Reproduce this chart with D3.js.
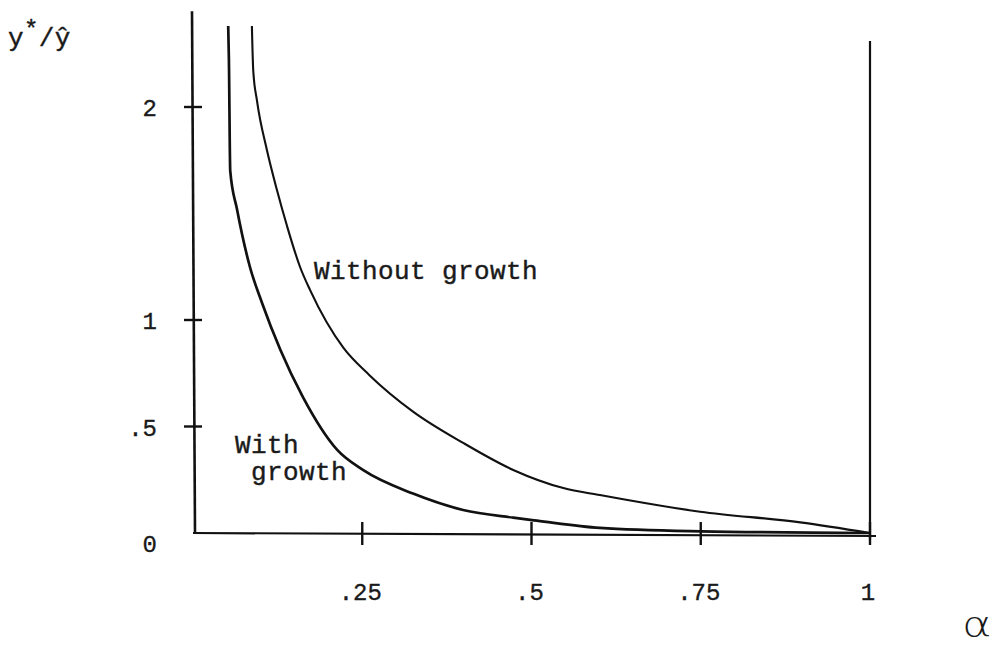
<!DOCTYPE html>
<html>
<head>
  <script src="https://d3js.org/d3.v7.min.js"></script>
  <style>
    body { margin: 0; background: #fff; }
    .tick-label { font-family: 'Liberation Mono', 'DejaVu Sans Mono', monospace; font-size: 24px; fill: #1a1a1a; stroke: #1a1a1a; stroke-width: 0.35px; }
    .note { font-family: 'Liberation Mono', 'DejaVu Sans Mono', monospace; font-size: 26px; fill: #1a1a1a; stroke: #1a1a1a; stroke-width: 0.4px; letter-spacing: 0.4px; }
  </style>
</head>
<body>
  <svg id="chart" width="1000" height="647"></svg>
  <script>
    // alpha values and y*/y~ ratios
    const withAlpha = [0.052, 0.053, 0.055, 0.065, 0.084, 0.102, 0.129, 0.162, 0.213, 0.251, 0.325, 0.399, 0.473, 0.508, 0.601, 0.75, 1.0];
    const withRatio = [2.38, 2.23, 1.70, 1.52, 1.25, 1.08, 0.86, 0.64, 0.39, 0.296, 0.185, 0.108, 0.072, 0.058, 0.024, 0.008, 0];

    const withoutAlpha = [0.087, 0.089, 0.0945, 0.109, 0.124, 0.139, 0.158, 0.173, 0.222, 0.261, 0.325, 0.399, 0.473, 0.547, 0.601, 0.749, 0.897, 1.0];
    const withoutRatio = [2.38, 2.17, 2.03, 1.80, 1.61, 1.44, 1.25, 1.14, 0.87, 0.74, 0.57, 0.423, 0.296, 0.211, 0.178, 0.10, 0.05, 0];

    const xTicks = [0.25, 0.5, 0.75, 1];
    const xTickLabels = [".25", ".5", ".75", "1"];
    const yTicks = [0, 0.5, 1, 2];
    const yTickLabels = ["0", ".5", "1", "2"];

    const svg = d3.select("#chart");
    const x = d3.scaleLinear().domain([0, 1]).range([193, 870]);
    const y = d3.scaleLinear().domain([0, 2]).range([533, 107]);

    const ink = "#111";

    // y axis
    svg.append("line")
      .attr("x1", 192).attr("x2", 195)
      .attr("y1", y(2.45)).attr("y2", y(0))
      .attr("stroke", ink).attr("stroke-width", 2.6);

    // x axis
    svg.append("line")
      .attr("x1", x(0)).attr("x2", x(1) + 6)
      .attr("y1", y(0)).attr("y2", y(0) + 3)
      .attr("stroke", ink).attr("stroke-width", 2.2);

    // right boundary at alpha = 1
    svg.append("line")
      .attr("x1", x(1)).attr("x2", x(1))
      .attr("y1", y(2.31)).attr("y2", y(-0.03))
      .attr("stroke", ink).attr("stroke-width", 2.2);

    // y ticks
    svg.selectAll(".ytick")
      .data(yTicks.filter(d => d > 0))
      .enter().append("line")
      .attr("x1", 184).attr("x2", 202)
      .attr("y1", d => y(d)).attr("y2", d => y(d))
      .attr("stroke", ink).attr("stroke-width", 2.4);

    svg.selectAll(".ylab")
      .data(yTicks)
      .enter().append("text")
      .attr("class", "tick-label")
      .attr("x", 157)
      .attr("y", (d, i) => y(d) + (d === 0 ? 19 : 9))
      .attr("text-anchor", "end")
      .text((d, i) => yTickLabels[i]);

    // x ticks
    svg.selectAll(".xtick")
      .data(xTicks)
      .enter().append("line")
      .attr("x1", d => x(d)).attr("x2", d => x(d))
      .attr("y1", y(0) - 11).attr("y2", y(0) + 12)
      .attr("stroke", ink).attr("stroke-width", 2.4);

    svg.selectAll(".xlab")
      .data(xTicks)
      .enter().append("text")
      .attr("class", "tick-label")
      .attr("x", d => x(d) - 2)
      .attr("y", 600)
      .attr("text-anchor", "middle")
      .text((d, i) => xTickLabels[i]);

    // curves
    const line = d3.line()
      .x(d => x(d[0]))
      .y(d => y(d[1]))
      .curve(d3.curveMonotoneX);

    svg.append("path")
      .datum(d3.zip(withAlpha, withRatio))
      .attr("d", line)
      .attr("fill", "none")
      .attr("stroke", ink)
      .attr("stroke-width", 2.7);

    svg.append("path")
      .datum(d3.zip(withoutAlpha, withoutRatio))
      .attr("d", line)
      .attr("fill", "none")
      .attr("stroke", ink)
      .attr("stroke-width", 2.1);

    // curve labels
    svg.append("text").attr("class", "note")
      .attr("x", 314).attr("y", 279).text("Without growth");
    svg.append("text").attr("class", "note")
      .attr("x", 235).attr("y", 453).text("With");
    svg.append("text").attr("class", "note")
      .attr("x", 251).attr("y", 480).text("growth");

    // axis titles
    const yt = svg.append("text")
      .attr("class", "note")
      .attr("x", 8).attr("y", 46);
    yt.append("tspan").text("y");
    yt.append("tspan").attr("dy", -9).attr("font-size", 24).text("*");
    yt.append("tspan").attr("dy", 9).text("/ŷ");

    svg.append("text")
      .attr("transform", "translate(962,637) scale(1.25,1)")
      .attr("font-family", "'DejaVu Sans', sans-serif")
      .attr("font-weight", 200)
      .attr("font-size", 36)
      .attr("fill", "#1a1a1a")
      .text("α");
  </script>
</body>
</html>
